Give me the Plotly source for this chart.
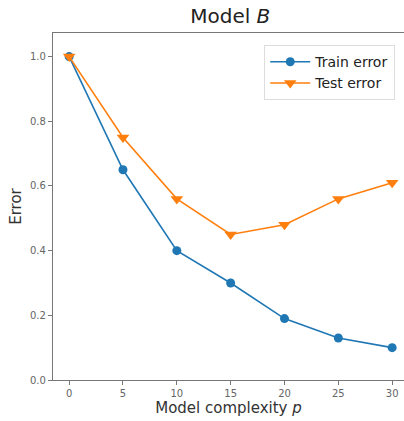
import plotly.graph_objects as go

complexity = [0, 5, 10, 15, 20, 25, 30]
train_error = [1.0, 0.65, 0.40, 0.30, 0.19, 0.13, 0.10]
test_error = [1.0, 0.75, 0.56, 0.45, 0.48, 0.56, 0.61]

fig = go.Figure()
fig.add_trace(go.Scatter(x=complexity, y=train_error, mode="lines+markers", name="Train error",
                         line=dict(color="#1f77b4", width=1.6),
                         marker=dict(symbol="circle", size=9, color="#1f77b4")))
fig.add_trace(go.Scatter(x=complexity, y=test_error, mode="lines+markers", name="Test error",
                         line=dict(color="#ff7f0e", width=1.6),
                         marker=dict(symbol="triangle-down", size=11, color="#ff7f0e")))

fig.update_layout(
    width=404, height=421,
    margin=dict(l=53, r=0, t=33, b=41),
    paper_bgcolor="white", plot_bgcolor="white",
    font=dict(family="DejaVu Sans", color="#333"),
    title=dict(text="Model <i>B</i>", x=0.57, xanchor="center", y=0.978, yanchor="top",
               font=dict(size=20, color="#222")),
    showlegend=True,
    legend=dict(x=0.975, y=0.965, xanchor="right", yanchor="top",
                bordercolor="#ddd", borderwidth=1, bgcolor="white",
                font=dict(size=14, color="#222"), tracegroupgap=0, itemwidth=40),
    xaxis=dict(range=[-1.5, 31.1], tickvals=complexity, ticks="outside", ticklen=4,
               tickcolor="#777", showline=True, linecolor="#777", linewidth=1.2, mirror=True,
               showgrid=False, zeroline=False, tickfont=dict(size=10, color="#666"),
               title=dict(text="Model complexity <i>p</i>", font=dict(size=15, color="#333"), standoff=4)),
    yaxis=dict(range=[0, 1.073], tickvals=[0, 0.2, 0.4, 0.6, 0.8, 1.0],
               ticktext=["0.0", "0.2", "0.4", "0.6", "0.8", "1.0"], ticks="outside", ticklen=4,
               tickcolor="#777", showline=True, linecolor="#777", linewidth=1.2,
               showgrid=False, zeroline=False, tickfont=dict(size=10, color="#666"),
               title=dict(text="Error", font=dict(size=15, color="#333"), standoff=4)),
)

fig.write_html("out.html", config={"displayModeBar": False},
               post_script="document.body.style.margin='0';document.body.style.overflow='hidden';")
